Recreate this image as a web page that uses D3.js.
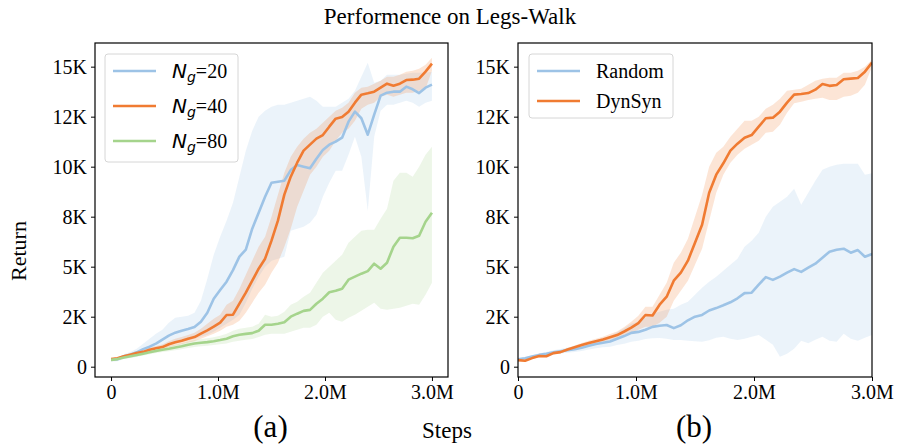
<!DOCTYPE html>
<html>
<head>
<meta charset="utf-8">
<script src="https://cdn.jsdelivr.net/npm/d3@7"></script>
<style>
  body { margin: 0; background: #fff; }
  svg text { font-family: "Liberation Serif", "Times New Roman", serif; fill: #000; }
</style>
</head>
<body>
<div id="chart"></div>
<script>
// steps in millions, one sample every 0.06M
const steps = d3.range(51).map(i => +(i * 0.06).toFixed(2));

// panel (a)
const ng20 = [350, 370, 520, 600, 720, 880, 1000, 1150, 1350, 1550, 1700, 1800, 1880, 1980, 2250, 2700, 3400, 3830, 4250, 4830,
  5500, 5850, 6900, 7700, 8500, 9200, 9250, 9300, 9830, 10080, 10000, 9920, 10400, 10830, 11100, 11250, 11450, 12250, 12750, 12420,
  11600, 12600, 13550, 13700, 13750, 13750, 14000, 13870, 13680, 13950, 14100];
const ng20Low = [250, 270, 380, 430, 500, 620, 720, 850, 950, 1050, 1150, 1250, 1300, 1400, 1500, 1600, 1750, 1950, 2150, 2350,
  2600, 3200, 3900, 4500, 5000, 5300, 5400, 5500, 6800, 6900, 7000, 7200, 7600, 8500, 9200, 9800, 9800, 10600, 11500, 10500,
  7800, 11500, 12800, 13100, 13100, 13200, 13300, 13200, 13000, 13200, 13300];
const ng20High = [420, 450, 620, 740, 900, 1150, 1400, 1650, 1850, 2200, 2450, 2500, 2550, 2700, 3300, 4400, 5600, 6500, 7300, 8200,
  9500, 10800, 11800, 12500, 12800, 13000, 13100, 13100, 13200, 13300, 13400, 13500, 13300, 13000, 13000, 13000, 13200, 13400, 13800, 14500,
  15200, 14200, 14300, 14600, 14600, 14600, 14650, 14700, 14700, 14700, 14750];

const ng40 = [380, 420, 520, 600, 680, 740, 850, 920, 980, 1120, 1220, 1300, 1400, 1480, 1650, 1820, 2000, 2200, 2585, 2600,
  3150, 3700, 4300, 4900, 5400, 6300, 7300, 8600, 9500, 10200, 10800, 11100, 11400, 11580, 12000, 12400, 12480, 12750, 13200, 13600,
  13670, 13750, 13950, 14150, 14050, 14150, 14330, 14350, 14400, 14750, 15150];
const ng40Low = [330, 360, 450, 520, 590, 640, 740, 800, 850, 970, 1050, 1120, 1200, 1270, 1400, 1520, 1650, 1800, 2000, 2100,
  2300, 2700, 3200, 3700, 4100, 4700, 5200, 6000, 6900, 8000, 8800, 9600, 10000, 10500, 10800, 11300, 11700, 11900, 12300, 12900,
  13100, 13200, 13500, 13600, 13500, 13600, 13700, 13700, 13800, 13900, 14800];
const ng40High = [420, 470, 590, 680, 770, 840, 960, 1040, 1110, 1270, 1400, 1480, 1590, 1700, 1900, 2150, 2400, 2600, 3100, 3300,
  3900, 4600, 5300, 6000, 6500, 7500, 8600, 9700, 10500, 11000, 11400, 11700, 11900, 12200, 12500, 12800, 12950, 13200, 13700, 13950,
  14000, 14150, 14300, 14500, 14500, 14600, 14750, 14800, 14900, 15100, 15450];

const ng80 = [340, 380, 460, 520, 580, 650, 720, 790, 850, 900, 960, 1020, 1100, 1160, 1200, 1230, 1270, 1330, 1400, 1520,
  1600, 1640, 1680, 1800, 2100, 2100, 2150, 2220, 2500, 2650, 2790, 2840, 3150, 3400, 3720, 3800, 3900, 4350, 4500, 4650,
  4780, 5150, 4900, 5200, 6000, 6450, 6450, 6420, 6550, 7250, 7700];
const ng80Low = [280, 320, 400, 450, 500, 560, 620, 680, 730, 770, 820, 870, 930, 980, 1020, 1050, 1080, 1120, 1160, 1250,
  1300, 1350, 1380, 1480, 1600, 1650, 1650, 1650, 1750, 1850, 1950, 1950, 2100, 2500, 2700, 2350, 2250, 2450, 2600, 2800,
  3000, 3200, 2900, 2850, 2900, 2950, 3050, 3150, 3100, 3600, 4200];
const ng80High = [400, 440, 520, 590, 660, 740, 820, 900, 970, 1030, 1100, 1170, 1260, 1330, 1380, 1420, 1470, 1550, 1650, 1800,
  1900, 1950, 2000, 2150, 2600, 2500, 2550, 2750, 3100, 3250, 3500, 3700, 4200, 4700, 5000, 5300, 5600, 6200, 6500, 6800,
  6850, 6850, 7400, 7900, 9300, 9700, 9700, 9500, 10000, 10600, 11000];

// panel (b)
const random = [370, 420, 510, 590, 650, 720, 770, 830, 870, 950, 1050, 1130, 1200, 1260, 1400, 1530, 1690, 1740, 1850, 1990,
  2050, 2085, 1930, 2070, 2320, 2500, 2590, 2810, 2930, 3070, 3220, 3420, 3680, 3700, 4100, 4480, 4340, 4500, 4700, 4880,
  4740, 4950, 5150, 5450, 5750, 5850, 5900, 5700, 5830, 5500, 5630];
const randomLow = [320, 360, 440, 510, 560, 620, 660, 700, 730, 790, 860, 920, 970, 1000, 1080, 1150, 1250, 1300, 1380, 1420,
  1430, 1400, 1340, 1330, 1300, 1270, 1250, 1320, 1450, 1500, 1400, 1330, 1400, 1500, 1580, 1350, 1100, 500, 650, 900,
  1300, 1170, 1350, 1500, 1300, 1250, 1650, 1400, 1300, 1450, 1580];
const randomHigh = [420, 480, 580, 670, 740, 820, 880, 960, 1010, 1110, 1240, 1340, 1430, 1520, 1720, 1920, 2150, 2250, 2450, 2650,
  2750, 2850, 2900, 3100, 3250, 3600, 3950, 4250, 4500, 4800, 5100, 5400, 6000, 6300, 6700, 7500, 8000, 8250, 8500, 8900,
  8100, 8700, 9300, 9850, 10000, 10100, 10150, 10150, 10150, 9600, 9670];

const dynsyn = [330, 300, 430, 530, 520, 680, 730, 860, 970, 1080, 1180, 1270, 1360, 1470, 1580, 1760, 1950, 2180, 2585, 2560,
  3100, 3500, 4300, 4700, 5300, 6200, 7100, 8700, 9600, 10170, 10800, 11150, 11450, 11580, 12000, 12420, 12450, 12750, 13200, 13600,
  13630, 13680, 13850, 14130, 14040, 14085, 14370, 14400, 14430, 14750, 15200];
const dynsynLow = [280, 260, 380, 470, 470, 620, 670, 790, 890, 990, 1080, 1160, 1240, 1340, 1430, 1580, 1700, 1850, 2000, 2000,
  2200, 2500, 3300, 3800, 4300, 5100, 5900, 7300, 8700, 9600, 10200, 10600, 10900, 11100, 11300, 11700, 11750, 12100, 12700, 13170,
  13250, 13335, 13400, 13450, 13335, 13335, 13500, 13550, 13700, 14100, 15000];
const dynsynHigh = [380, 350, 490, 600, 580, 750, 800, 940, 1060, 1180, 1300, 1400, 1500, 1640, 1760, 1980, 2250, 2550, 3000, 3000,
  3600, 4200, 5200, 5700, 6400, 7500, 8600, 10000, 10700, 11000, 11500, 11900, 12300, 12300, 12500, 12900, 13100, 13400, 13800, 13850,
  13900, 14100, 14300, 14400, 14450, 14450, 14700, 14700, 14800, 15000, 15350];

const yTicks = [0, 2500, 5000, 7500, 10000, 12500, 15000];
const yTickLabels = ['0', '2K', '5K', '8K', '10K', '12K', '15K'];
const xTicks = [0, 1, 2, 3];
const xTickLabels = ['0', '1.0M', '2.0M', '3.0M'];

const colors = { blue: '#9dc3e6', orange: '#f07b32', green: '#a5d48c' };

const width = 898;
const height = 445;
const plotTop = 43, plotBottom = 377;

const svg = d3.select('#chart').append('svg')
  .attr('width', width)
  .attr('height', height);

const y = d3.scaleLinear().domain([-515, 16183]).range([plotBottom, plotTop]);

function drawPanel(id, left, right, xDomain, series, label) {
  const x = d3.scaleLinear().domain(xDomain).range([left, right]);
  const g = svg.append('g');

  svg.append('clipPath').attr('id', 'clip-' + id)
    .append('rect').attr('x', left).attr('y', plotTop).attr('width', right - left).attr('height', plotBottom - plotTop);

  const plot = g.append('g').attr('clip-path', `url(#clip-${id})`);

  const area = d3.area().x((d, i) => x(steps[i])).y0(d => y(d[0])).y1(d => y(d[1]));
  const line = d3.line().x((d, i) => x(steps[i])).y(d => y(d));

  series.forEach(s => {
    plot.append('path')
      .datum(s.low.map((v, i) => [v, s.high[i]]))
      .attr('d', area)
      .attr('fill', s.color)
      .attr('fill-opacity', 0.2)
      .attr('stroke', 'none');
  });
  series.forEach(s => {
    plot.append('path')
      .datum(s.mean)
      .attr('d', line)
      .attr('fill', 'none')
      .attr('stroke', s.color)
      .attr('stroke-width', 2.6)
      .attr('stroke-linejoin', 'round');
  });

  const xAxis = d3.axisBottom(x).tickValues(xTicks).tickFormat((d, i) => xTickLabels[i]).tickSize(4).tickPadding(4);
  const gx = g.append('g').attr('transform', `translate(0,${plotBottom})`).call(xAxis);
  const yAxis = d3.axisLeft(y).tickValues(yTicks).tickFormat((d, i) => yTickLabels[i]).tickSize(4).tickPadding(4);
  const gy = g.append('g').attr('transform', `translate(${left},0)`).call(yAxis);
  [gx, gy].forEach(a => {
    a.select('.domain').remove();
    a.selectAll('.tick line').attr('stroke', '#000').attr('stroke-width', 1);
    a.selectAll('.tick text').style('font-family', '"Liberation Serif", serif').style('font-size', '20px').attr('fill', '#000');
  });

  g.append('rect')
    .attr('x', left).attr('y', plotTop)
    .attr('width', right - left).attr('height', plotBottom - plotTop)
    .attr('fill', 'none').attr('stroke', '#000').attr('stroke-width', 1.2);

  g.append('text')
    .attr('x', (left + right) / 2 - 1)
    .attr('y', 437)
    .attr('text-anchor', 'middle')
    .style('font-size', '31px')
    .text(label);
  return g;
}

function drawLegend(g, x0, y0, w, h, items) {
  g.append('rect')
    .attr('x', x0).attr('y', y0).attr('width', w).attr('height', h)
    .attr('rx', 3).attr('fill', '#fff').attr('fill-opacity', 0.85)
    .attr('stroke', '#d6d6d6').attr('stroke-width', 1);
  items.forEach((it, i) => {
    const cy = y0 + 17 + i * it.gap;
    g.append('line')
      .attr('x1', x0 + 8).attr('x2', x0 + 51)
      .attr('y1', cy).attr('y2', cy)
      .attr('stroke', it.color).attr('stroke-width', 2.6);
    const t = g.append('text').attr('x', x0 + 67).attr('y', cy + 7).style('font-size', '20px');
    if (it.math) {
      t.append('tspan').style('font-family', '"DejaVu Sans", sans-serif').style('font-style', 'italic').text('N');
      t.append('tspan').style('font-family', '"DejaVu Sans", sans-serif').style('font-style', 'italic')
        .style('font-size', '14px').attr('dy', 4).text('g');
      t.append('tspan').attr('dy', -4).text('=' + it.text);
    } else {
      t.text(it.text);
    }
  });
}

const ga = drawPanel('a', 95, 448, [-0.15, 3.15], [
  { mean: ng20, low: ng20Low, high: ng20High, color: colors.blue },
  { mean: ng40, low: ng40Low, high: ng40High, color: colors.orange },
  { mean: ng80, low: ng80Low, high: ng80High, color: colors.green }
], '(a)');
drawLegend(ga, 105, 54, 133, 108, [
  { text: '20', color: colors.blue, math: true, gap: 35 },
  { text: '40', color: colors.orange, math: true, gap: 35 },
  { text: '80', color: colors.green, math: true, gap: 35 }
]);

const gb = drawPanel('b', 518, 872, [0, 3], [
  { mean: random, low: randomLow, high: randomHigh, color: colors.blue },
  { mean: dynsyn, low: dynsynLow, high: dynsynHigh, color: colors.orange }
], '(b)');
drawLegend(gb, 529, 54, 144, 64, [
  { text: 'Random', color: colors.blue, gap: 30 },
  { text: 'DynSyn', color: colors.orange, gap: 30 }
]);

svg.append('text')
  .attr('x', 450).attr('y', 24)
  .attr('text-anchor', 'middle')
  .style('font-size', '23px')
  .text('Performence on Legs-Walk');

svg.append('text')
  .attr('transform', 'translate(26,251) rotate(-90)')
  .attr('text-anchor', 'middle')
  .style('font-size', '22px')
  .text('Return');

svg.append('text')
  .attr('x', 447).attr('y', 438)
  .attr('text-anchor', 'middle')
  .style('font-size', '23px')
  .text('Steps');
</script>
</body>
</html>
